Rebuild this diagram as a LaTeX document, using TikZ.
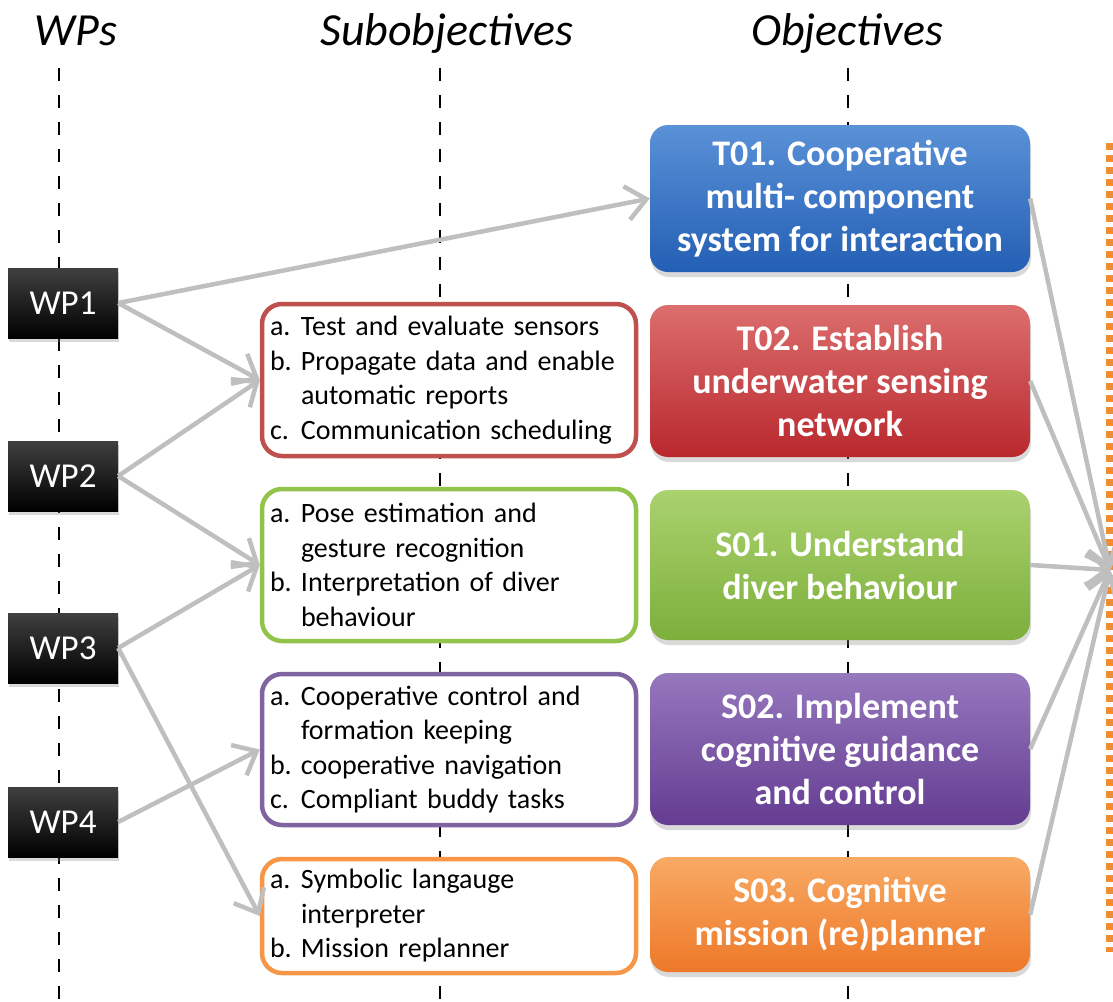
\documentclass[tikz,border=0pt]{standalone}
\usepackage{fontspec}
\setmainfont{Carlito}
\usetikzlibrary{arrows.meta,shadows}
\definecolor{arrowgray}{RGB}{191,191,191}
\definecolor{subred}{RGB}{192,80,77}
\definecolor{subgreen}{RGB}{146,196,76}
\definecolor{subpurple}{RGB}{128,100,162}
\definecolor{suborange}{RGB}{247,150,70}
\definecolor{dotorange}{RGB}{240,140,50}
\definecolor{bluetop}{RGB}{90,145,215}
\definecolor{bluebot}{RGB}{35,95,180}
\definecolor{redtop}{RGB}{220,110,110}
\definecolor{redbot}{RGB}{185,40,45}
\definecolor{greentop}{RGB}{170,210,110}
\definecolor{greenbot}{RGB}{125,175,60}
\definecolor{purpletop}{RGB}{150,120,190}
\definecolor{purplebot}{RGB}{100,60,145}
\definecolor{orangetop}{RGB}{248,170,100}
\definecolor{orangebot}{RGB}{238,120,40}
\newcommand{\itemlbl}[1]{\makebox[31pt][l]{#1}}
\begin{document}
\begin{tikzpicture}[x=1pt,y=-1pt,
      head/.style={font=\fontsize{46}{50}\selectfont\itshape},
      guide/.style={line width=2pt,dash pattern=on 13pt off 14pt},
      wpbox/.style={minimum width=110pt,minimum height=70pt,inner sep=0pt,
        top color=black!75,bottom color=black,text=white,
        font=\fontsize{35}{42}\selectfont,
        drop shadow={shadow xshift=1pt,shadow yshift=-4pt,opacity=.3}},
      subbox/.style={draw=#1,line width=4.5pt,rounded corners=20pt,fill=white,
        text width=358pt,inner xsep=8pt,align=left,
        font=\fontsize{28}{34.5}\selectfont},
      objbox/.style={minimum width=380pt,rounded corners=18pt,
        top color=#1top,bottom color=#1bot,text=white,align=center,
        font=\fontsize{36}{43}\selectfont\bfseries,
        drop shadow={shadow xshift=1pt,shadow yshift=-5pt,opacity=.3}},
      conn/.style={draw=arrowgray,line width=4.5pt,
        -{Straight Barb[length=20pt,width=34pt]}}]
      \useasboundingbox (0,0) rectangle (1113,1001);
      % column guides
      \draw[guide] (59,68) -- (59,1001);
      \draw[guide] (440,68) -- (440,1001);
      \draw[guide] (848,68) -- (848,1001);
      \draw[dotorange,line width=8pt,dash pattern=on 7pt off 5pt] (1110,143) -- (1110,952);
      \path (76,45) node[head,anchor=base] (hwp) {WPs};
      \path (447,45) node[head,anchor=base] (hsub) {Subobjectives};
      \path (847,45) node[head,anchor=base] (hobj) {Objectives};
      % work packages
      \node[wpbox] (wp1) at (63,303) {WP1};
      \node[wpbox] (wp2) at (63,476) {WP2};
      \node[wpbox] (wp3) at (63,648) {WP3};
      \node[wpbox] (wp4) at (63,822) {WP4};
      % subobjectives
      \node[subbox=subred,minimum height=152pt] (subt02) at (449,380)
        {\itemlbl{a.}Test and evaluate sensors\\
         \itemlbl{b.}Propagate data and enable\\
         \itemlbl{}automatic reports\\
         \itemlbl{c.}Communication scheduling};
      \node[subbox=subgreen,minimum height=152pt] (subs01) at (449,565)
        {\itemlbl{a.}Pose estimation and\\
         \itemlbl{}gesture recognition\\
         \itemlbl{b.}Interpretation of diver\\
         \itemlbl{}behaviour};
      \node[subbox=subpurple,minimum height=151pt] (subs02) at (449,749.5)
        {\itemlbl{a.}Cooperative control and\\
         \itemlbl{}formation keeping\\
         \itemlbl{b.}cooperative navigation\\
         \itemlbl{c.}Compliant buddy tasks};
      \node[subbox=suborange,minimum height=114pt] (subs03) at (449,916)
        {\itemlbl{a.}Symbolic langauge\\
         \itemlbl{}interpreter\\
         \itemlbl{b.}Mission replanner};
      % objectives
      \node[objbox=blue,minimum height=147pt] (t01) at (840,198.5)
        {T01. Cooperative\\multi- component\\system for interaction};
      \node[objbox=red,minimum height=152pt] (t02) at (840,381)
        {T02. Establish\\underwater sensing\\network};
      \node[objbox=green,minimum height=150pt] (s01) at (840,565)
        {S01. Understand\\diver behaviour};
      \node[objbox=purple,minimum height=152pt] (s02) at (840,749)
        {S02. Implement\\cognitive guidance\\and control};
      \node[objbox=orange,minimum height=115pt] (s03) at (840,914.5)
        {S03. Cognitive\\mission (re)planner};
      \coordinate (goal) at (1110,570);
      % links
      \draw[conn] (wp1.east) -- (t01.west);
      \draw[conn] (wp1.east) -- (subt02.west);
      \draw[conn] (wp2.east) -- (subt02.west);
      \draw[conn] (wp2.east) -- (subs01.west);
      \draw[conn] (wp3.east) -- (subs01.west);
      \draw[conn] (wp3.east) -- (subs03.west);
      \draw[conn] (wp4.east) -- (subs02.west);
      \foreach \obj in {t01,t02,s01,s02,s03}
        \draw[conn] (\obj.east) -- (goal);
\end{tikzpicture}
\end{document}
